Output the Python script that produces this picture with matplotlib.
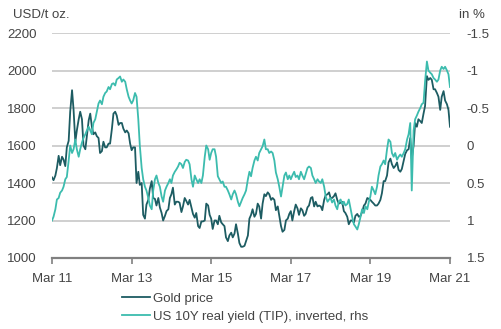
import matplotlib
matplotlib.use("Agg")
import matplotlib.pyplot as plt
from matplotlib.lines import Line2D
import pandas as pd

plt.rcParams['font.family'] = ['Liberation Sans', 'DejaVu Sans']

# Semi-monthly observations (1st and 15th), Mar 2011 - Mar 2021
dates = pd.date_range('2011-03-01', '2021-03-01', freq='SMS')

gold_price = [
    # 2011 (Mar-Dec)
    1430, 1415, 1440, 1480, 1545, 1495, 1540, 1525, 1490, 1590,
    1625, 1780, 1895, 1790, 1620, 1680, 1740, 1780, 1740, 1600,
    # 2012
    1580, 1650, 1735, 1770, 1700, 1660, 1670, 1650, 1640, 1560, 1570, 1620,
    1590, 1590, 1610, 1610, 1690, 1770, 1780, 1760, 1710, 1720, 1720, 1690,
    # 2013
    1670, 1680, 1665, 1610, 1575, 1590, 1590, 1400, 1460, 1390, 1400, 1230,
    1210, 1285, 1310, 1370, 1410, 1320, 1315, 1280, 1320, 1270, 1240, 1200,
    # 2014
    1225, 1250, 1260, 1320, 1340, 1375, 1285, 1300, 1300, 1295, 1245, 1275,
    1320, 1305, 1285, 1310, 1270, 1235, 1215, 1240, 1170, 1160, 1195, 1195,
    # 2015
    1200, 1290, 1280, 1230, 1210, 1155, 1200, 1200, 1180, 1225, 1190, 1180,
    1170, 1110, 1090, 1120, 1135, 1110, 1130, 1180, 1130, 1080, 1060, 1060,
    # 2016
    1065, 1090, 1120, 1210, 1230, 1260, 1220, 1235, 1290, 1275, 1210, 1290,
    1340, 1330, 1350, 1340, 1310, 1320, 1310, 1255, 1275, 1225, 1170, 1140,
    # 2017
    1150, 1200, 1210, 1235, 1250, 1200, 1250, 1285, 1265, 1230, 1265, 1255,
    1225, 1235, 1270, 1280, 1320, 1325, 1275, 1300, 1275, 1280, 1275, 1255,
    # 2018
    1310, 1335, 1340, 1350, 1320, 1320, 1330, 1345, 1310, 1290, 1295, 1300,
    1250, 1240, 1220, 1180, 1200, 1200, 1190, 1225, 1235, 1220, 1225, 1245,
    # 2019
    1280, 1290, 1320, 1315, 1310, 1300, 1290, 1280, 1280, 1290, 1310, 1345,
    1410, 1410, 1440, 1510, 1530, 1500, 1480, 1490, 1510, 1470, 1460, 1475,
    # 2020
    1520, 1555, 1575, 1580, 1640, 1530, 1600, 1720, 1700, 1740, 1730, 1720,
    1770, 1810, 1970, 1950, 1960, 1950, 1900, 1900, 1880, 1860, 1790, 1860,
    # 2021 (Jan-Mar)
    1890, 1840, 1820, 1790, 1700,
]

real_yield = [
    # 2011 (Mar-Dec)
    1.00, 0.95, 0.85, 0.72, 0.70, 0.63, 0.60, 0.55, 0.45, 0.42,
    0.20, 0.00, 0.10, 0.05, -0.08, 0.05, 0.15, 0.05, -0.04, -0.10,
    # 2012
    -0.15, -0.20, -0.25, -0.20, -0.15, -0.30, -0.35, -0.45, -0.56, -0.60, -0.55, -0.65,
    -0.70, -0.72, -0.78, -0.75, -0.82, -0.83, -0.80, -0.88, -0.90, -0.92, -0.85, -0.88,
    # 2013
    -0.85, -0.75, -0.65, -0.60, -0.56, -0.60, -0.70, -0.65, -0.35, 0.00, 0.30, 0.45,
    0.55, 0.60, 0.70, 0.80, 0.85, 0.60, 0.45, 0.40, 0.50, 0.55, 0.68, 0.75,
    # 2014
    0.60, 0.55, 0.50, 0.45, 0.50, 0.40, 0.35, 0.32, 0.28, 0.23, 0.25, 0.30,
    0.22, 0.19, 0.20, 0.25, 0.45, 0.55, 0.40, 0.45, 0.50, 0.45, 0.50, 0.40,
    # 2015
    0.15, 0.00, 0.05, 0.19, 0.10, 0.05, 0.05, 0.15, 0.41, 0.45, 0.50, 0.48,
    0.55, 0.55, 0.60, 0.65, 0.72, 0.65, 0.60, 0.65, 0.75, 0.81, 0.75, 0.70,
    # 2016
    0.65, 0.60, 0.45, 0.35, 0.41, 0.30, 0.20, 0.15, 0.20, 0.10, 0.05, 0.01,
    -0.08, 0.05, 0.05, 0.10, 0.08, 0.10, 0.20, 0.36, 0.45, 0.55, 0.68, 0.55,
    # 2017
    0.40, 0.36, 0.45, 0.40, 0.45, 0.40, 0.35, 0.42, 0.40, 0.45, 0.35, 0.40,
    0.45, 0.38, 0.30, 0.28, 0.30, 0.40, 0.45, 0.50, 0.45, 0.48, 0.50, 0.45,
    # 2018
    0.55, 0.68, 0.75, 0.72, 0.70, 0.76, 0.72, 0.80, 0.85, 0.75, 0.72, 0.78,
    0.75, 0.80, 0.78, 0.72, 0.85, 0.95, 1.05, 1.08, 1.12, 1.05, 0.95, 0.85,
    # 2019
    0.90, 0.81, 0.85, 0.75, 0.68, 0.55, 0.60, 0.65, 0.55, 0.40, 0.28, 0.25,
    0.20, 0.25, 0.05, -0.08, -0.05, 0.10, 0.15, 0.10, 0.19, 0.15, 0.12, 0.15,
    # 2020
    0.10, 0.05, -0.08, -0.15, -0.30, 0.60, -0.20, -0.35, -0.40, -0.45, -0.50, -0.55,
    -0.57, -0.85, -1.12, -1.00, -0.97, -0.95, -0.90, -0.88, -0.85, -0.88, -1.00, -1.05,
    # 2021 (Jan-Mar)
    -1.02, -1.05, -1.00, -0.95, -0.78,
]

left_ticks = [1000, 1200, 1400, 1600, 1800, 2000, 2200]
right_ticks = [-1.5, -1, -0.5, 0, 0.5, 1, 1.5]
right_labels = ['-1.5', '-1', '-0.5', '0', '0.5', '1', '1.5']
x_tick_years = [2011, 2013, 2015, 2017, 2019, 2021]
x_tick_labels = ['Mar 11', 'Mar 13', 'Mar 15', 'Mar 17', 'Mar 19', 'Mar 21']

gold_color = '#1d5c62'
yield_color = '#3cbcae'
text_color = '#444444'
grid_color = '#cccccc'
axis_color = '#808080'

fig = plt.figure(figsize=(5.02, 3.29), dpi=100)
ax = fig.add_axes([52 / 502, 1 - 258 / 329, 398 / 502, 225 / 329])
ax2 = ax.twinx()

ax.plot(dates, gold_price, color=gold_color, lw=1.3, zorder=3)
ax2.plot(dates, real_yield, color=yield_color, lw=1.3, zorder=3)

ax.set_ylim(1000, 2200)
ax2.set_ylim(1.5, -1.5)
ax.set_xlim(pd.Timestamp('2011-03-01'), pd.Timestamp('2021-03-01'))

ax.set_yticks(left_ticks)
ax.set_yticklabels([str(v) for v in left_ticks])
ax2.set_yticks(right_ticks)
ax2.set_yticklabels(right_labels)

xticks = [pd.Timestamp(f'{y}-03-01') for y in x_tick_years]
ax.set_xticks(xticks)
ax.set_xticklabels(x_tick_labels)

# Horizontal gridlines (the 1000 level is the x-axis line itself)
for v in left_ticks[1:]:
    ax.axhline(v, color=grid_color, lw=1.3, zorder=1)

for a in (ax, ax2):
    for s in ('top', 'left', 'right', 'bottom'):
        a.spines[s].set_visible(False)
ax.spines['bottom'].set_visible(True)
ax.spines['bottom'].set_color(axis_color)
ax.spines['bottom'].set_linewidth(1.6)
ax.spines['bottom'].set_zorder(2)

ax.tick_params(axis='y', length=0, pad=11, labelsize=9.5, labelcolor=text_color)
ax2.tick_params(axis='y', length=0, pad=12, labelsize=9.5, labelcolor=text_color)
ax.tick_params(axis='x', length=4, width=1.2, color=axis_color, direction='out',
               pad=6.5, labelsize=9.5, labelcolor=text_color)

fig.text(13 / 502, 1 - 15 / 329, 'USD/t oz.', fontsize=9.5, color=text_color,
         ha='left', va='center')
fig.text(459 / 502, 1 - 15 / 329, 'in %', fontsize=9.5, color=text_color,
         ha='left', va='center')

handles = [Line2D([], [], color=gold_color, lw=1.3),
           Line2D([], [], color=yield_color, lw=1.3)]
labels = ['Gold price', 'US 10Y real yield (TIP), inverted, rhs']
fig.legend(handles, labels, loc='center left',
           bbox_to_anchor=(122 / 502, 1 - 307.5 / 329),
           frameon=False, fontsize=9.5, handlelength=2.1, handletextpad=0.25,
           labelspacing=0.45, borderpad=0, borderaxespad=0,
           labelcolor=text_color)

fig.savefig('out.png', dpi=100)
